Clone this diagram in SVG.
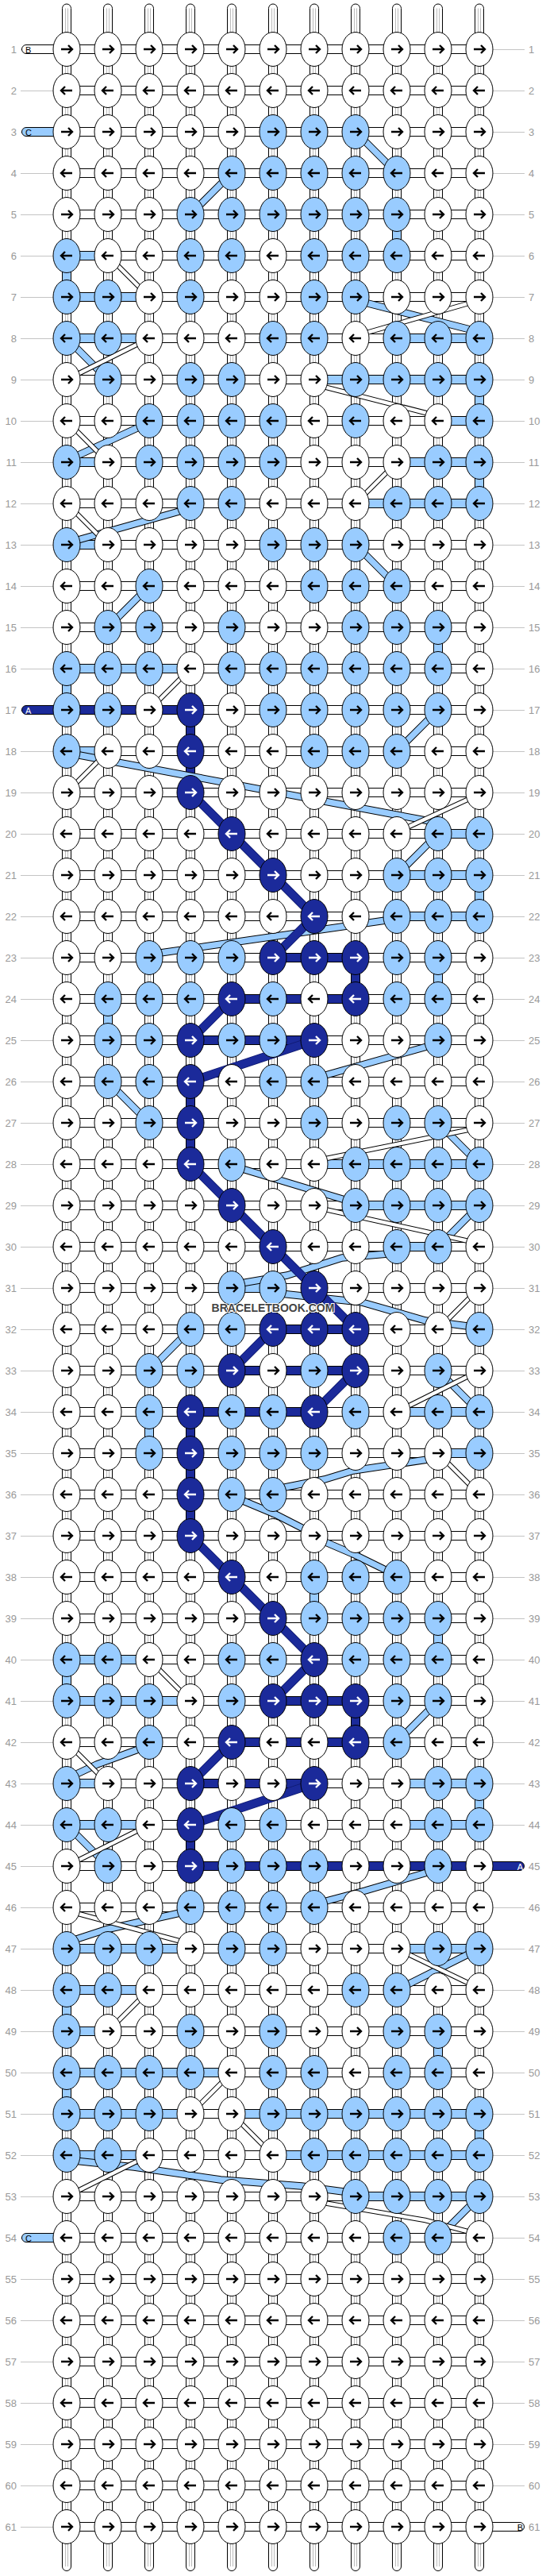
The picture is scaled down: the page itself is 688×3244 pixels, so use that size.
<svg xmlns="http://www.w3.org/2000/svg" width="688" height="3244" viewBox="0 0 688 3244">
<style>
.num{font-family:"Liberation Sans",Arial,sans-serif;font-size:13px;fill:#999}
.lb{font-family:"Liberation Sans",Arial,sans-serif;font-size:11px}
</style>
<defs>
<pattern id="ph" patternUnits="userSpaceOnUse" x="84" y="36" width="52" height="52"><rect x="15.5" y="20.5" width="21" height="11" fill="#fff" stroke="#000"/></pattern>
<pattern id="pv" patternUnits="userSpaceOnUse" x="58" y="62" width="52" height="52"><rect x="20.5" y="19" width="11" height="14" fill="#fff" stroke="#000"/><path d="M24.5,19.5V32.5M27.5,19.5V32.5" stroke="#bbb"/></pattern>
<pattern id="pl" patternUnits="userSpaceOnUse" x="0" y="36" width="688" height="52"><path d="M26,26.5H67M621,26.5H661" stroke="#c4c4c4"/></pattern>
<g id="st"><rect x="-5.5" y="0.5" width="11" height="44" rx="5.5" fill="#fff" stroke="#000"/><path d="M-1.5,6V44M1.5,6V44" stroke="#bbb"/></g>
<path id="ar" d="M-7,0H6.5M2,-5L7,0L2,5" fill="none" stroke-width="2.4"/>
<path id="al" d="M7,0H-6.5M-2,-5L-7,0L-2,5" fill="none" stroke-width="2.4"/>
<g id="wr"><ellipse rx="17" ry="21.5" fill="#fff" stroke="#000"/><use href="#ar" stroke="#000"/></g>
<g id="wl"><ellipse rx="17" ry="21.5" fill="#fff" stroke="#000"/><use href="#al" stroke="#000"/></g>
<g id="lr"><ellipse rx="17" ry="21.5" fill="#99ccff" stroke="#000"/><use href="#ar" stroke="#000"/></g>
<g id="ll"><ellipse rx="17" ry="21.5" fill="#99ccff" stroke="#000"/><use href="#al" stroke="#000"/></g>
<g id="dr"><ellipse rx="17" ry="21.5" fill="#1b2a9a" stroke="#000"/><use href="#ar" stroke="#fff"/></g>
<g id="dl"><ellipse rx="17" ry="21.5" fill="#1b2a9a" stroke="#000"/><use href="#al" stroke="#fff"/></g>
<path id="sLp" d="M448,166L500,218M292,218L240,270M448,378L604,418M84,426L136,478M188,532L84,580M240,640L84,684M448,686L500,738M188,738L136,790M552,894L500,946M84,948L552,1036M552,1050L500,1102M500,1157L188,1202M552,1314L396,1358M136,1362L188,1414M552,1414L604,1466M292,1468L448,1515M604,1518L552,1570M500,1578L431,1584L362,1606L292,1618M344,1628L456,1640L536,1663L604,1672M240,1674L188,1726M552,1726L604,1778M552,1836L445,1852L409,1863L344,1876M292,1884L347,1907L396,1932M396,1936L445,1957L500,1984M552,2142L500,2194M188,2198L122,2222L84,2240M84,2298L136,2350M552,2354L460,2381L396,2398M240,2406L133,2430L84,2446M604,2454L500,2506M84,2720L169,2729L278,2745L380,2753L448,2762M604,2766L552,2818"/>
<path id="sWp" d="M136,322L188,374M448,423L604,378M188,426L84,478M396,484L552,524M84,530L136,582M500,582L448,634M84,634L136,686M240,842L188,894M136,946L84,998M604,1000L500,1048M396,1462L604,1420M396,1520L604,1566M604,1622L552,1674M604,1726L500,1778M552,1830L604,1882M188,2090L240,2142M84,2194L136,2246M188,2298L84,2350M84,2406L240,2448M500,2454L604,2504M188,2506L136,2558M292,2610L240,2662M292,2662L344,2714M188,2714L84,2766M396,2772L536,2796L604,2814"/>
<path id="sDp" d="M240,998L292,1050L344,1102L396,1154L344,1206M292,1258L240,1310M396,1310L240,1362M240,1466L292,1518L344,1570L396,1622L448,1674M344,1674L292,1726M448,1726L396,1778M240,1934L292,1986L344,2038L396,2090L344,2142M292,2194L240,2246M396,2246L240,2298"/>
</defs>
<rect width="688" height="3244" fill="#fff"/>
<g id="connectors">
<rect x="0" y="36" width="688" height="3172" fill="url(#pl)"/>
<g id="stubs">
<use href="#st" x="84" y="4.5"/><use href="#st" x="136" y="4.5"/><use href="#st" x="188" y="4.5"/><use href="#st" x="240" y="4.5"/><use href="#st" x="292" y="4.5"/><use href="#st" x="344" y="4.5"/><use href="#st" x="396" y="4.5"/><use href="#st" x="448" y="4.5"/><use href="#st" x="500" y="4.5"/><use href="#st" x="552" y="4.5"/><use href="#st" x="604" y="4.5"/>
<use href="#st" transform="translate(84,3238) scale(1,-1)"/><use href="#st" transform="translate(136,3238) scale(1,-1)"/><use href="#st" transform="translate(188,3238) scale(1,-1)"/><use href="#st" transform="translate(240,3238) scale(1,-1)"/><use href="#st" transform="translate(292,3238) scale(1,-1)"/><use href="#st" transform="translate(344,3238) scale(1,-1)"/><use href="#st" transform="translate(396,3238) scale(1,-1)"/><use href="#st" transform="translate(448,3238) scale(1,-1)"/><use href="#st" transform="translate(500,3238) scale(1,-1)"/><use href="#st" transform="translate(552,3238) scale(1,-1)"/><use href="#st" transform="translate(604,3238) scale(1,-1)"/>
</g>
<rect x="84" y="36" width="520" height="3172" fill="url(#ph)"/>
<rect x="58" y="62" width="572" height="3120" fill="url(#pv)"/>
<path fill="#99ccff" stroke="#000" d="M99,316.5h22v11h-22zM99,368.5h22v11h-22zM151,368.5h22v11h-22zM99,420.5h22v11h-22zM151,420.5h22v11h-22zM515,420.5h22v11h-22zM567,420.5h22v11h-22zM411,472.5h22v11h-22zM463,472.5h22v11h-22zM515,472.5h22v11h-22zM567,472.5h22v11h-22zM567,524.5h22v11h-22zM99,576.5h22v11h-22zM515,576.5h22v11h-22zM567,576.5h22v11h-22zM463,628.5h22v11h-22zM515,628.5h22v11h-22zM567,628.5h22v11h-22zM99,680.5h22v11h-22zM99,836.5h22v11h-22zM151,836.5h22v11h-22zM203,836.5h22v11h-22zM99,940.5h22v11h-22zM567,1044.5h22v11h-22zM515,1096.5h22v11h-22zM567,1096.5h22v11h-22zM515,1148.5h22v11h-22zM567,1148.5h22v11h-22zM411,1460.5h22v11h-22zM463,1460.5h22v11h-22zM515,1460.5h22v11h-22zM567,1460.5h22v11h-22zM463,1512.5h22v11h-22zM515,1512.5h22v11h-22zM567,1512.5h22v11h-22zM515,1564.5h22v11h-22zM307,1616.5h22v11h-22zM515,1772.5h22v11h-22zM567,1772.5h22v11h-22zM567,1824.5h22v11h-22zM99,2084.5h22v11h-22zM151,2084.5h22v11h-22zM99,2136.5h22v11h-22zM151,2136.5h22v11h-22zM203,2136.5h22v11h-22zM99,2240.5h22v11h-22zM515,2240.5h22v11h-22zM567,2240.5h22v11h-22zM99,2292.5h22v11h-22zM151,2292.5h22v11h-22zM515,2292.5h22v11h-22zM567,2292.5h22v11h-22zM99,2448.5h22v11h-22zM151,2448.5h22v11h-22zM203,2448.5h22v11h-22zM515,2448.5h22v11h-22zM567,2448.5h22v11h-22zM99,2500.5h22v11h-22zM151,2500.5h22v11h-22zM99,2552.5h22v11h-22zM99,2604.5h22v11h-22zM151,2604.5h22v11h-22zM203,2604.5h22v11h-22zM255,2604.5h22v11h-22zM99,2656.5h22v11h-22zM151,2656.5h22v11h-22zM203,2656.5h22v11h-22zM307,2656.5h22v11h-22zM359,2656.5h22v11h-22zM411,2656.5h22v11h-22zM463,2656.5h22v11h-22zM515,2656.5h22v11h-22zM567,2656.5h22v11h-22zM99,2708.5h22v11h-22zM151,2708.5h22v11h-22zM359,2708.5h22v11h-22zM411,2708.5h22v11h-22zM463,2708.5h22v11h-22zM515,2708.5h22v11h-22zM567,2708.5h22v11h-22zM463,2760.5h22v11h-22zM515,2760.5h22v11h-22zM567,2760.5h22v11h-22zM494.5,289h11v14h-11zM78.5,341h11v14h-11zM598.5,497h11v14h-11zM598.5,601h11v14h-11zM546.5,809h11v14h-11zM78.5,861h11v14h-11zM598.5,1121h11v14h-11zM546.5,1225h11v14h-11zM130.5,1277h11v14h-11zM182.5,1797h11v14h-11zM390.5,2005h11v14h-11zM546.5,2057h11v14h-11zM78.5,2109h11v14h-11zM598.5,2265h11v14h-11zM78.5,2525h11v14h-11zM546.5,2577h11v14h-11zM78.5,2629h11v14h-11zM598.5,2681h11v14h-11z"/>
<path fill="#1b2a9a" stroke="#000" d="M99,888.5h22v11h-22zM151,888.5h22v11h-22zM203,888.5h22v11h-22zM359,1200.5h22v11h-22zM411,1200.5h22v11h-22zM307,1252.5h22v11h-22zM359,1252.5h22v11h-22zM411,1252.5h22v11h-22zM255,1304.5h22v11h-22zM307,1304.5h22v11h-22zM359,1304.5h22v11h-22zM359,1668.5h22v11h-22zM411,1668.5h22v11h-22zM307,1720.5h22v11h-22zM359,1720.5h22v11h-22zM411,1720.5h22v11h-22zM255,1772.5h22v11h-22zM307,1772.5h22v11h-22zM359,1772.5h22v11h-22zM359,2136.5h22v11h-22zM411,2136.5h22v11h-22zM307,2188.5h22v11h-22zM359,2188.5h22v11h-22zM411,2188.5h22v11h-22zM255,2240.5h22v11h-22zM307,2240.5h22v11h-22zM359,2240.5h22v11h-22zM255,2344.5h22v11h-22zM307,2344.5h22v11h-22zM359,2344.5h22v11h-22zM411,2344.5h22v11h-22zM463,2344.5h22v11h-22zM515,2344.5h22v11h-22zM567,2344.5h22v11h-22zM234.5,913h11v14h-11zM234.5,965h11v14h-11zM442.5,1225h11v14h-11zM234.5,1381h11v14h-11zM234.5,1433h11v14h-11zM234.5,1797h11v14h-11zM234.5,1849h11v14h-11zM234.5,1901h11v14h-11zM442.5,2161h11v14h-11zM234.5,2317h11v14h-11z"/>
<g fill="none" stroke-linejoin="round">
<use href="#sLp" stroke="#000" stroke-width="9.5"/>
<use href="#sLp" stroke="#99ccff" stroke-width="7.5"/>
<use href="#sWp" stroke="#000" stroke-width="6.5"/>
<use href="#sWp" stroke="#fff" stroke-width="4.5"/>
<use href="#sDp" stroke="#0f1a70" stroke-width="11"/>
<use href="#sDp" stroke="#1b2a9a" stroke-width="9.5"/>
</g>
<g id="sidestubs" stroke="#000">
<rect x="27.5" y="56.5" width="45" height="11" rx="5.5" fill="#fff"/>
<rect x="27.5" y="160.5" width="45" height="11" rx="5.5" fill="#99ccff"/>
<rect x="27.5" y="888.5" width="45" height="11" rx="5.5" fill="#1b2a9a"/>
<rect x="27.5" y="2812.5" width="45" height="11" rx="5.5" fill="#99ccff"/>
<rect x="615.5" y="2344.5" width="45" height="11" rx="5.5" fill="#1b2a9a"/>
<rect x="615.5" y="3176.5" width="45" height="11" rx="5.5" fill="#fff"/>
</g>
</g>
<g id="knots">
<g transform="translate(0,62)"><g id="n1-1"><use href="#wr" x="84"/></g><g id="n1-2"><use href="#wr" x="136"/></g><g id="n1-3"><use href="#wr" x="188"/></g><g id="n1-4"><use href="#wr" x="240"/></g><g id="n1-5"><use href="#wr" x="292"/></g><g id="n1-6"><use href="#wr" x="344"/></g><g id="n1-7"><use href="#wr" x="396"/></g><g id="n1-8"><use href="#wr" x="448"/></g><g id="n1-9"><use href="#wr" x="500"/></g><g id="n1-10"><use href="#wr" x="552"/></g><g id="n1-11"><use href="#wr" x="604"/></g></g>
<g transform="translate(0,114)"><g id="n2-1"><use href="#wl" x="84"/></g><g id="n2-2"><use href="#wl" x="136"/></g><g id="n2-3"><use href="#wl" x="188"/></g><g id="n2-4"><use href="#wl" x="240"/></g><g id="n2-5"><use href="#wl" x="292"/></g><g id="n2-6"><use href="#wl" x="344"/></g><g id="n2-7"><use href="#wl" x="396"/></g><g id="n2-8"><use href="#wl" x="448"/></g><g id="n2-9"><use href="#wl" x="500"/></g><g id="n2-10"><use href="#wl" x="552"/></g><g id="n2-11"><use href="#wl" x="604"/></g></g>
<g transform="translate(0,166)"><g id="n3-1"><use href="#wr" x="84"/></g><g id="n3-2"><use href="#wr" x="136"/></g><g id="n3-3"><use href="#wr" x="188"/></g><g id="n3-4"><use href="#wr" x="240"/></g><g id="n3-5"><use href="#wr" x="292"/></g><g id="n3-6"><use href="#lr" x="344"/></g><g id="n3-7"><use href="#lr" x="396"/></g><g id="n3-8"><use href="#lr" x="448"/></g><g id="n3-9"><use href="#wr" x="500"/></g><g id="n3-10"><use href="#wr" x="552"/></g><g id="n3-11"><use href="#wr" x="604"/></g></g>
<g transform="translate(0,218)"><g id="n4-1"><use href="#wl" x="84"/></g><g id="n4-2"><use href="#wl" x="136"/></g><g id="n4-3"><use href="#wl" x="188"/></g><g id="n4-4"><use href="#wl" x="240"/></g><g id="n4-5"><use href="#ll" x="292"/></g><g id="n4-6"><use href="#ll" x="344"/></g><g id="n4-7"><use href="#ll" x="396"/></g><g id="n4-8"><use href="#ll" x="448"/></g><g id="n4-9"><use href="#ll" x="500"/></g><g id="n4-10"><use href="#wl" x="552"/></g><g id="n4-11"><use href="#wl" x="604"/></g></g>
<g transform="translate(0,270)"><g id="n5-1"><use href="#wr" x="84"/></g><g id="n5-2"><use href="#wr" x="136"/></g><g id="n5-3"><use href="#wr" x="188"/></g><g id="n5-4"><use href="#lr" x="240"/></g><g id="n5-5"><use href="#lr" x="292"/></g><g id="n5-6"><use href="#lr" x="344"/></g><g id="n5-7"><use href="#lr" x="396"/></g><g id="n5-8"><use href="#lr" x="448"/></g><g id="n5-9"><use href="#lr" x="500"/></g><g id="n5-10"><use href="#wr" x="552"/></g><g id="n5-11"><use href="#wr" x="604"/></g></g>
<g transform="translate(0,322)"><g id="n6-1"><use href="#ll" x="84"/></g><g id="n6-2"><use href="#wl" x="136"/></g><g id="n6-3"><use href="#wl" x="188"/></g><g id="n6-4"><use href="#ll" x="240"/></g><g id="n6-5"><use href="#ll" x="292"/></g><g id="n6-6"><use href="#wl" x="344"/></g><g id="n6-7"><use href="#ll" x="396"/></g><g id="n6-8"><use href="#ll" x="448"/></g><g id="n6-9"><use href="#ll" x="500"/></g><g id="n6-10"><use href="#wl" x="552"/></g><g id="n6-11"><use href="#wl" x="604"/></g></g>
<g transform="translate(0,374)"><g id="n7-1"><use href="#lr" x="84"/></g><g id="n7-2"><use href="#lr" x="136"/></g><g id="n7-3"><use href="#wr" x="188"/></g><g id="n7-4"><use href="#lr" x="240"/></g><g id="n7-5"><use href="#wr" x="292"/></g><g id="n7-6"><use href="#wr" x="344"/></g><g id="n7-7"><use href="#lr" x="396"/></g><g id="n7-8"><use href="#lr" x="448"/></g><g id="n7-9"><use href="#wr" x="500"/></g><g id="n7-10"><use href="#wr" x="552"/></g><g id="n7-11"><use href="#wr" x="604"/></g></g>
<g transform="translate(0,426)"><g id="n8-1"><use href="#ll" x="84"/></g><g id="n8-2"><use href="#ll" x="136"/></g><g id="n8-3"><use href="#wl" x="188"/></g><g id="n8-4"><use href="#wl" x="240"/></g><g id="n8-5"><use href="#wl" x="292"/></g><g id="n8-6"><use href="#ll" x="344"/></g><g id="n8-7"><use href="#ll" x="396"/></g><g id="n8-8"><use href="#wl" x="448"/></g><g id="n8-9"><use href="#ll" x="500"/></g><g id="n8-10"><use href="#ll" x="552"/></g><g id="n8-11"><use href="#ll" x="604"/></g></g>
<g transform="translate(0,478)"><g id="n9-1"><use href="#wr" x="84"/></g><g id="n9-2"><use href="#lr" x="136"/></g><g id="n9-3"><use href="#wr" x="188"/></g><g id="n9-4"><use href="#lr" x="240"/></g><g id="n9-5"><use href="#lr" x="292"/></g><g id="n9-6"><use href="#wr" x="344"/></g><g id="n9-7"><use href="#wr" x="396"/></g><g id="n9-8"><use href="#lr" x="448"/></g><g id="n9-9"><use href="#lr" x="500"/></g><g id="n9-10"><use href="#lr" x="552"/></g><g id="n9-11"><use href="#lr" x="604"/></g></g>
<g transform="translate(0,530)"><g id="n10-1"><use href="#wl" x="84"/></g><g id="n10-2"><use href="#wl" x="136"/></g><g id="n10-3"><use href="#ll" x="188"/></g><g id="n10-4"><use href="#ll" x="240"/></g><g id="n10-5"><use href="#ll" x="292"/></g><g id="n10-6"><use href="#ll" x="344"/></g><g id="n10-7"><use href="#wl" x="396"/></g><g id="n10-8"><use href="#ll" x="448"/></g><g id="n10-9"><use href="#wl" x="500"/></g><g id="n10-10"><use href="#wl" x="552"/></g><g id="n10-11"><use href="#ll" x="604"/></g></g>
<g transform="translate(0,582)"><g id="n11-1"><use href="#lr" x="84"/></g><g id="n11-2"><use href="#wr" x="136"/></g><g id="n11-3"><use href="#lr" x="188"/></g><g id="n11-4"><use href="#lr" x="240"/></g><g id="n11-5"><use href="#lr" x="292"/></g><g id="n11-6"><use href="#lr" x="344"/></g><g id="n11-7"><use href="#wr" x="396"/></g><g id="n11-8"><use href="#wr" x="448"/></g><g id="n11-9"><use href="#wr" x="500"/></g><g id="n11-10"><use href="#lr" x="552"/></g><g id="n11-11"><use href="#lr" x="604"/></g></g>
<g transform="translate(0,634)"><g id="n12-1"><use href="#wl" x="84"/></g><g id="n12-2"><use href="#wl" x="136"/></g><g id="n12-3"><use href="#wl" x="188"/></g><g id="n12-4"><use href="#ll" x="240"/></g><g id="n12-5"><use href="#ll" x="292"/></g><g id="n12-6"><use href="#wl" x="344"/></g><g id="n12-7"><use href="#wl" x="396"/></g><g id="n12-8"><use href="#wl" x="448"/></g><g id="n12-9"><use href="#ll" x="500"/></g><g id="n12-10"><use href="#ll" x="552"/></g><g id="n12-11"><use href="#ll" x="604"/></g></g>
<g transform="translate(0,686)"><g id="n13-1"><use href="#lr" x="84"/></g><g id="n13-2"><use href="#wr" x="136"/></g><g id="n13-3"><use href="#wr" x="188"/></g><g id="n13-4"><use href="#wr" x="240"/></g><g id="n13-5"><use href="#wr" x="292"/></g><g id="n13-6"><use href="#lr" x="344"/></g><g id="n13-7"><use href="#lr" x="396"/></g><g id="n13-8"><use href="#lr" x="448"/></g><g id="n13-9"><use href="#wr" x="500"/></g><g id="n13-10"><use href="#wr" x="552"/></g><g id="n13-11"><use href="#wr" x="604"/></g></g>
<g transform="translate(0,738)"><g id="n14-1"><use href="#wl" x="84"/></g><g id="n14-2"><use href="#wl" x="136"/></g><g id="n14-3"><use href="#ll" x="188"/></g><g id="n14-4"><use href="#wl" x="240"/></g><g id="n14-5"><use href="#wl" x="292"/></g><g id="n14-6"><use href="#wl" x="344"/></g><g id="n14-7"><use href="#ll" x="396"/></g><g id="n14-8"><use href="#ll" x="448"/></g><g id="n14-9"><use href="#ll" x="500"/></g><g id="n14-10"><use href="#wl" x="552"/></g><g id="n14-11"><use href="#wl" x="604"/></g></g>
<g transform="translate(0,790)"><g id="n15-1"><use href="#wr" x="84"/></g><g id="n15-2"><use href="#lr" x="136"/></g><g id="n15-3"><use href="#lr" x="188"/></g><g id="n15-4"><use href="#wr" x="240"/></g><g id="n15-5"><use href="#lr" x="292"/></g><g id="n15-6"><use href="#wr" x="344"/></g><g id="n15-7"><use href="#wr" x="396"/></g><g id="n15-8"><use href="#lr" x="448"/></g><g id="n15-9"><use href="#lr" x="500"/></g><g id="n15-10"><use href="#lr" x="552"/></g><g id="n15-11"><use href="#wr" x="604"/></g></g>
<g transform="translate(0,842)"><g id="n16-1"><use href="#ll" x="84"/></g><g id="n16-2"><use href="#ll" x="136"/></g><g id="n16-3"><use href="#ll" x="188"/></g><g id="n16-4"><use href="#wl" x="240"/></g><g id="n16-5"><use href="#ll" x="292"/></g><g id="n16-6"><use href="#ll" x="344"/></g><g id="n16-7"><use href="#ll" x="396"/></g><g id="n16-8"><use href="#ll" x="448"/></g><g id="n16-9"><use href="#ll" x="500"/></g><g id="n16-10"><use href="#ll" x="552"/></g><g id="n16-11"><use href="#wl" x="604"/></g></g>
<g transform="translate(0,894)"><g id="n17-1"><use href="#lr" x="84"/></g><g id="n17-2"><use href="#lr" x="136"/></g><g id="n17-3"><use href="#wr" x="188"/></g><g id="n17-4"><use href="#dr" x="240"/></g><g id="n17-5"><use href="#wr" x="292"/></g><g id="n17-6"><use href="#lr" x="344"/></g><g id="n17-7"><use href="#lr" x="396"/></g><g id="n17-8"><use href="#lr" x="448"/></g><g id="n17-9"><use href="#lr" x="500"/></g><g id="n17-10"><use href="#lr" x="552"/></g><g id="n17-11"><use href="#wr" x="604"/></g></g>
<g transform="translate(0,946)"><g id="n18-1"><use href="#ll" x="84"/></g><g id="n18-2"><use href="#wl" x="136"/></g><g id="n18-3"><use href="#wl" x="188"/></g><g id="n18-4"><use href="#dl" x="240"/></g><g id="n18-5"><use href="#wl" x="292"/></g><g id="n18-6"><use href="#wl" x="344"/></g><g id="n18-7"><use href="#ll" x="396"/></g><g id="n18-8"><use href="#ll" x="448"/></g><g id="n18-9"><use href="#ll" x="500"/></g><g id="n18-10"><use href="#wl" x="552"/></g><g id="n18-11"><use href="#wl" x="604"/></g></g>
<g transform="translate(0,998)"><g id="n19-1"><use href="#wr" x="84"/></g><g id="n19-2"><use href="#wr" x="136"/></g><g id="n19-3"><use href="#wr" x="188"/></g><g id="n19-4"><use href="#dr" x="240"/></g><g id="n19-5"><use href="#wr" x="292"/></g><g id="n19-6"><use href="#wr" x="344"/></g><g id="n19-7"><use href="#wr" x="396"/></g><g id="n19-8"><use href="#wr" x="448"/></g><g id="n19-9"><use href="#wr" x="500"/></g><g id="n19-10"><use href="#wr" x="552"/></g><g id="n19-11"><use href="#wr" x="604"/></g></g>
<g transform="translate(0,1050)"><g id="n20-1"><use href="#wl" x="84"/></g><g id="n20-2"><use href="#wl" x="136"/></g><g id="n20-3"><use href="#wl" x="188"/></g><g id="n20-4"><use href="#wl" x="240"/></g><g id="n20-5"><use href="#dl" x="292"/></g><g id="n20-6"><use href="#wl" x="344"/></g><g id="n20-7"><use href="#wl" x="396"/></g><g id="n20-8"><use href="#wl" x="448"/></g><g id="n20-9"><use href="#wl" x="500"/></g><g id="n20-10"><use href="#ll" x="552"/></g><g id="n20-11"><use href="#ll" x="604"/></g></g>
<g transform="translate(0,1102)"><g id="n21-1"><use href="#wr" x="84"/></g><g id="n21-2"><use href="#wr" x="136"/></g><g id="n21-3"><use href="#wr" x="188"/></g><g id="n21-4"><use href="#wr" x="240"/></g><g id="n21-5"><use href="#wr" x="292"/></g><g id="n21-6"><use href="#dr" x="344"/></g><g id="n21-7"><use href="#wr" x="396"/></g><g id="n21-8"><use href="#wr" x="448"/></g><g id="n21-9"><use href="#lr" x="500"/></g><g id="n21-10"><use href="#lr" x="552"/></g><g id="n21-11"><use href="#lr" x="604"/></g></g>
<g transform="translate(0,1154)"><g id="n22-1"><use href="#wl" x="84"/></g><g id="n22-2"><use href="#wl" x="136"/></g><g id="n22-3"><use href="#wl" x="188"/></g><g id="n22-4"><use href="#wl" x="240"/></g><g id="n22-5"><use href="#wl" x="292"/></g><g id="n22-6"><use href="#wl" x="344"/></g><g id="n22-7"><use href="#dl" x="396"/></g><g id="n22-8"><use href="#wl" x="448"/></g><g id="n22-9"><use href="#ll" x="500"/></g><g id="n22-10"><use href="#ll" x="552"/></g><g id="n22-11"><use href="#ll" x="604"/></g></g>
<g transform="translate(0,1206)"><g id="n23-1"><use href="#wr" x="84"/></g><g id="n23-2"><use href="#wr" x="136"/></g><g id="n23-3"><use href="#lr" x="188"/></g><g id="n23-4"><use href="#lr" x="240"/></g><g id="n23-5"><use href="#lr" x="292"/></g><g id="n23-6"><use href="#dr" x="344"/></g><g id="n23-7"><use href="#dr" x="396"/></g><g id="n23-8"><use href="#dr" x="448"/></g><g id="n23-9"><use href="#lr" x="500"/></g><g id="n23-10"><use href="#lr" x="552"/></g><g id="n23-11"><use href="#wr" x="604"/></g></g>
<g transform="translate(0,1258)"><g id="n24-1"><use href="#wl" x="84"/></g><g id="n24-2"><use href="#ll" x="136"/></g><g id="n24-3"><use href="#ll" x="188"/></g><g id="n24-4"><use href="#ll" x="240"/></g><g id="n24-5"><use href="#dl" x="292"/></g><g id="n24-6"><use href="#ll" x="344"/></g><g id="n24-7"><use href="#wl" x="396"/></g><g id="n24-8"><use href="#dl" x="448"/></g><g id="n24-9"><use href="#ll" x="500"/></g><g id="n24-10"><use href="#ll" x="552"/></g><g id="n24-11"><use href="#wl" x="604"/></g></g>
<g transform="translate(0,1310)"><g id="n25-1"><use href="#wr" x="84"/></g><g id="n25-2"><use href="#lr" x="136"/></g><g id="n25-3"><use href="#lr" x="188"/></g><g id="n25-4"><use href="#dr" x="240"/></g><g id="n25-5"><use href="#lr" x="292"/></g><g id="n25-6"><use href="#lr" x="344"/></g><g id="n25-7"><use href="#dr" x="396"/></g><g id="n25-8"><use href="#wr" x="448"/></g><g id="n25-9"><use href="#wr" x="500"/></g><g id="n25-10"><use href="#lr" x="552"/></g><g id="n25-11"><use href="#wr" x="604"/></g></g>
<g transform="translate(0,1362)"><g id="n26-1"><use href="#wl" x="84"/></g><g id="n26-2"><use href="#ll" x="136"/></g><g id="n26-3"><use href="#ll" x="188"/></g><g id="n26-4"><use href="#dl" x="240"/></g><g id="n26-5"><use href="#wl" x="292"/></g><g id="n26-6"><use href="#ll" x="344"/></g><g id="n26-7"><use href="#ll" x="396"/></g><g id="n26-8"><use href="#wl" x="448"/></g><g id="n26-9"><use href="#wl" x="500"/></g><g id="n26-10"><use href="#wl" x="552"/></g><g id="n26-11"><use href="#wl" x="604"/></g></g>
<g transform="translate(0,1414)"><g id="n27-1"><use href="#wr" x="84"/></g><g id="n27-2"><use href="#wr" x="136"/></g><g id="n27-3"><use href="#lr" x="188"/></g><g id="n27-4"><use href="#dr" x="240"/></g><g id="n27-5"><use href="#wr" x="292"/></g><g id="n27-6"><use href="#wr" x="344"/></g><g id="n27-7"><use href="#lr" x="396"/></g><g id="n27-8"><use href="#wr" x="448"/></g><g id="n27-9"><use href="#lr" x="500"/></g><g id="n27-10"><use href="#lr" x="552"/></g><g id="n27-11"><use href="#wr" x="604"/></g></g>
<g transform="translate(0,1466)"><g id="n28-1"><use href="#wl" x="84"/></g><g id="n28-2"><use href="#wl" x="136"/></g><g id="n28-3"><use href="#wl" x="188"/></g><g id="n28-4"><use href="#dl" x="240"/></g><g id="n28-5"><use href="#ll" x="292"/></g><g id="n28-6"><use href="#wl" x="344"/></g><g id="n28-7"><use href="#wl" x="396"/></g><g id="n28-8"><use href="#ll" x="448"/></g><g id="n28-9"><use href="#ll" x="500"/></g><g id="n28-10"><use href="#ll" x="552"/></g><g id="n28-11"><use href="#ll" x="604"/></g></g>
<g transform="translate(0,1518)"><g id="n29-1"><use href="#wr" x="84"/></g><g id="n29-2"><use href="#wr" x="136"/></g><g id="n29-3"><use href="#wr" x="188"/></g><g id="n29-4"><use href="#wr" x="240"/></g><g id="n29-5"><use href="#dr" x="292"/></g><g id="n29-6"><use href="#wr" x="344"/></g><g id="n29-7"><use href="#wr" x="396"/></g><g id="n29-8"><use href="#lr" x="448"/></g><g id="n29-9"><use href="#lr" x="500"/></g><g id="n29-10"><use href="#lr" x="552"/></g><g id="n29-11"><use href="#lr" x="604"/></g></g>
<g transform="translate(0,1570)"><g id="n30-1"><use href="#wl" x="84"/></g><g id="n30-2"><use href="#wl" x="136"/></g><g id="n30-3"><use href="#wl" x="188"/></g><g id="n30-4"><use href="#wl" x="240"/></g><g id="n30-5"><use href="#wl" x="292"/></g><g id="n30-6"><use href="#dl" x="344"/></g><g id="n30-7"><use href="#wl" x="396"/></g><g id="n30-8"><use href="#wl" x="448"/></g><g id="n30-9"><use href="#ll" x="500"/></g><g id="n30-10"><use href="#ll" x="552"/></g><g id="n30-11"><use href="#wl" x="604"/></g></g>
<g transform="translate(0,1622)"><g id="n31-1"><use href="#wr" x="84"/></g><g id="n31-2"><use href="#wr" x="136"/></g><g id="n31-3"><use href="#wr" x="188"/></g><g id="n31-4"><use href="#wr" x="240"/></g><g id="n31-5"><use href="#lr" x="292"/></g><g id="n31-6"><use href="#lr" x="344"/></g><g id="n31-7"><use href="#dr" x="396"/></g><g id="n31-8"><use href="#wr" x="448"/></g><g id="n31-9"><use href="#wr" x="500"/></g><g id="n31-10"><use href="#wr" x="552"/></g><g id="n31-11"><use href="#wr" x="604"/></g></g>
<g transform="translate(0,1674)"><g id="n32-1"><use href="#wl" x="84"/></g><g id="n32-2"><use href="#wl" x="136"/></g><g id="n32-3"><use href="#wl" x="188"/></g><g id="n32-4"><use href="#ll" x="240"/></g><g id="n32-5"><use href="#ll" x="292"/></g><g id="n32-6"><use href="#dl" x="344"/></g><g id="n32-7"><use href="#dl" x="396"/></g><g id="n32-8"><use href="#dl" x="448"/></g><g id="n32-9"><use href="#wl" x="500"/></g><g id="n32-10"><use href="#wl" x="552"/></g><g id="n32-11"><use href="#ll" x="604"/></g></g>
<g transform="translate(0,1726)"><g id="n33-1"><use href="#wr" x="84"/></g><g id="n33-2"><use href="#wr" x="136"/></g><g id="n33-3"><use href="#lr" x="188"/></g><g id="n33-4"><use href="#lr" x="240"/></g><g id="n33-5"><use href="#dr" x="292"/></g><g id="n33-6"><use href="#wr" x="344"/></g><g id="n33-7"><use href="#lr" x="396"/></g><g id="n33-8"><use href="#dr" x="448"/></g><g id="n33-9"><use href="#wr" x="500"/></g><g id="n33-10"><use href="#lr" x="552"/></g><g id="n33-11"><use href="#wr" x="604"/></g></g>
<g transform="translate(0,1778)"><g id="n34-1"><use href="#wl" x="84"/></g><g id="n34-2"><use href="#wl" x="136"/></g><g id="n34-3"><use href="#ll" x="188"/></g><g id="n34-4"><use href="#dl" x="240"/></g><g id="n34-5"><use href="#ll" x="292"/></g><g id="n34-6"><use href="#ll" x="344"/></g><g id="n34-7"><use href="#dl" x="396"/></g><g id="n34-8"><use href="#ll" x="448"/></g><g id="n34-9"><use href="#wl" x="500"/></g><g id="n34-10"><use href="#ll" x="552"/></g><g id="n34-11"><use href="#ll" x="604"/></g></g>
<g transform="translate(0,1830)"><g id="n35-1"><use href="#wr" x="84"/></g><g id="n35-2"><use href="#wr" x="136"/></g><g id="n35-3"><use href="#lr" x="188"/></g><g id="n35-4"><use href="#dr" x="240"/></g><g id="n35-5"><use href="#lr" x="292"/></g><g id="n35-6"><use href="#lr" x="344"/></g><g id="n35-7"><use href="#lr" x="396"/></g><g id="n35-8"><use href="#wr" x="448"/></g><g id="n35-9"><use href="#wr" x="500"/></g><g id="n35-10"><use href="#wr" x="552"/></g><g id="n35-11"><use href="#lr" x="604"/></g></g>
<g transform="translate(0,1882)"><g id="n36-1"><use href="#wl" x="84"/></g><g id="n36-2"><use href="#wl" x="136"/></g><g id="n36-3"><use href="#wl" x="188"/></g><g id="n36-4"><use href="#dl" x="240"/></g><g id="n36-5"><use href="#ll" x="292"/></g><g id="n36-6"><use href="#ll" x="344"/></g><g id="n36-7"><use href="#wl" x="396"/></g><g id="n36-8"><use href="#wl" x="448"/></g><g id="n36-9"><use href="#wl" x="500"/></g><g id="n36-10"><use href="#wl" x="552"/></g><g id="n36-11"><use href="#wl" x="604"/></g></g>
<g transform="translate(0,1934)"><g id="n37-1"><use href="#wr" x="84"/></g><g id="n37-2"><use href="#wr" x="136"/></g><g id="n37-3"><use href="#wr" x="188"/></g><g id="n37-4"><use href="#dr" x="240"/></g><g id="n37-5"><use href="#wr" x="292"/></g><g id="n37-6"><use href="#wr" x="344"/></g><g id="n37-7"><use href="#wr" x="396"/></g><g id="n37-8"><use href="#wr" x="448"/></g><g id="n37-9"><use href="#wr" x="500"/></g><g id="n37-10"><use href="#wr" x="552"/></g><g id="n37-11"><use href="#wr" x="604"/></g></g>
<g transform="translate(0,1986)"><g id="n38-1"><use href="#wl" x="84"/></g><g id="n38-2"><use href="#wl" x="136"/></g><g id="n38-3"><use href="#wl" x="188"/></g><g id="n38-4"><use href="#wl" x="240"/></g><g id="n38-5"><use href="#dl" x="292"/></g><g id="n38-6"><use href="#wl" x="344"/></g><g id="n38-7"><use href="#ll" x="396"/></g><g id="n38-8"><use href="#ll" x="448"/></g><g id="n38-9"><use href="#ll" x="500"/></g><g id="n38-10"><use href="#wl" x="552"/></g><g id="n38-11"><use href="#wl" x="604"/></g></g>
<g transform="translate(0,2038)"><g id="n39-1"><use href="#wr" x="84"/></g><g id="n39-2"><use href="#wr" x="136"/></g><g id="n39-3"><use href="#wr" x="188"/></g><g id="n39-4"><use href="#wr" x="240"/></g><g id="n39-5"><use href="#wr" x="292"/></g><g id="n39-6"><use href="#dr" x="344"/></g><g id="n39-7"><use href="#lr" x="396"/></g><g id="n39-8"><use href="#lr" x="448"/></g><g id="n39-9"><use href="#lr" x="500"/></g><g id="n39-10"><use href="#lr" x="552"/></g><g id="n39-11"><use href="#wr" x="604"/></g></g>
<g transform="translate(0,2090)"><g id="n40-1"><use href="#ll" x="84"/></g><g id="n40-2"><use href="#ll" x="136"/></g><g id="n40-3"><use href="#wl" x="188"/></g><g id="n40-4"><use href="#wl" x="240"/></g><g id="n40-5"><use href="#ll" x="292"/></g><g id="n40-6"><use href="#ll" x="344"/></g><g id="n40-7"><use href="#dl" x="396"/></g><g id="n40-8"><use href="#ll" x="448"/></g><g id="n40-9"><use href="#ll" x="500"/></g><g id="n40-10"><use href="#ll" x="552"/></g><g id="n40-11"><use href="#wl" x="604"/></g></g>
<g transform="translate(0,2142)"><g id="n41-1"><use href="#lr" x="84"/></g><g id="n41-2"><use href="#lr" x="136"/></g><g id="n41-3"><use href="#lr" x="188"/></g><g id="n41-4"><use href="#wr" x="240"/></g><g id="n41-5"><use href="#lr" x="292"/></g><g id="n41-6"><use href="#dr" x="344"/></g><g id="n41-7"><use href="#dr" x="396"/></g><g id="n41-8"><use href="#dr" x="448"/></g><g id="n41-9"><use href="#lr" x="500"/></g><g id="n41-10"><use href="#lr" x="552"/></g><g id="n41-11"><use href="#wr" x="604"/></g></g>
<g transform="translate(0,2194)"><g id="n42-1"><use href="#wl" x="84"/></g><g id="n42-2"><use href="#wl" x="136"/></g><g id="n42-3"><use href="#ll" x="188"/></g><g id="n42-4"><use href="#wl" x="240"/></g><g id="n42-5"><use href="#dl" x="292"/></g><g id="n42-6"><use href="#wl" x="344"/></g><g id="n42-7"><use href="#wl" x="396"/></g><g id="n42-8"><use href="#dl" x="448"/></g><g id="n42-9"><use href="#ll" x="500"/></g><g id="n42-10"><use href="#wl" x="552"/></g><g id="n42-11"><use href="#wl" x="604"/></g></g>
<g transform="translate(0,2246)"><g id="n43-1"><use href="#lr" x="84"/></g><g id="n43-2"><use href="#wr" x="136"/></g><g id="n43-3"><use href="#wr" x="188"/></g><g id="n43-4"><use href="#dr" x="240"/></g><g id="n43-5"><use href="#wr" x="292"/></g><g id="n43-6"><use href="#wr" x="344"/></g><g id="n43-7"><use href="#dr" x="396"/></g><g id="n43-8"><use href="#wr" x="448"/></g><g id="n43-9"><use href="#wr" x="500"/></g><g id="n43-10"><use href="#lr" x="552"/></g><g id="n43-11"><use href="#lr" x="604"/></g></g>
<g transform="translate(0,2298)"><g id="n44-1"><use href="#ll" x="84"/></g><g id="n44-2"><use href="#ll" x="136"/></g><g id="n44-3"><use href="#wl" x="188"/></g><g id="n44-4"><use href="#dl" x="240"/></g><g id="n44-5"><use href="#ll" x="292"/></g><g id="n44-6"><use href="#ll" x="344"/></g><g id="n44-7"><use href="#wl" x="396"/></g><g id="n44-8"><use href="#wl" x="448"/></g><g id="n44-9"><use href="#wl" x="500"/></g><g id="n44-10"><use href="#ll" x="552"/></g><g id="n44-11"><use href="#ll" x="604"/></g></g>
<g transform="translate(0,2350)"><g id="n45-1"><use href="#wr" x="84"/></g><g id="n45-2"><use href="#lr" x="136"/></g><g id="n45-3"><use href="#wr" x="188"/></g><g id="n45-4"><use href="#dr" x="240"/></g><g id="n45-5"><use href="#lr" x="292"/></g><g id="n45-6"><use href="#lr" x="344"/></g><g id="n45-7"><use href="#lr" x="396"/></g><g id="n45-8"><use href="#wr" x="448"/></g><g id="n45-9"><use href="#wr" x="500"/></g><g id="n45-10"><use href="#lr" x="552"/></g><g id="n45-11"><use href="#wr" x="604"/></g></g>
<g transform="translate(0,2402)"><g id="n46-1"><use href="#wl" x="84"/></g><g id="n46-2"><use href="#wl" x="136"/></g><g id="n46-3"><use href="#wl" x="188"/></g><g id="n46-4"><use href="#ll" x="240"/></g><g id="n46-5"><use href="#ll" x="292"/></g><g id="n46-6"><use href="#ll" x="344"/></g><g id="n46-7"><use href="#ll" x="396"/></g><g id="n46-8"><use href="#wl" x="448"/></g><g id="n46-9"><use href="#wl" x="500"/></g><g id="n46-10"><use href="#wl" x="552"/></g><g id="n46-11"><use href="#wl" x="604"/></g></g>
<g transform="translate(0,2454)"><g id="n47-1"><use href="#lr" x="84"/></g><g id="n47-2"><use href="#lr" x="136"/></g><g id="n47-3"><use href="#lr" x="188"/></g><g id="n47-4"><use href="#wr" x="240"/></g><g id="n47-5"><use href="#lr" x="292"/></g><g id="n47-6"><use href="#lr" x="344"/></g><g id="n47-7"><use href="#wr" x="396"/></g><g id="n47-8"><use href="#wr" x="448"/></g><g id="n47-9"><use href="#wr" x="500"/></g><g id="n47-10"><use href="#lr" x="552"/></g><g id="n47-11"><use href="#lr" x="604"/></g></g>
<g transform="translate(0,2506)"><g id="n48-1"><use href="#ll" x="84"/></g><g id="n48-2"><use href="#ll" x="136"/></g><g id="n48-3"><use href="#wl" x="188"/></g><g id="n48-4"><use href="#wl" x="240"/></g><g id="n48-5"><use href="#wl" x="292"/></g><g id="n48-6"><use href="#wl" x="344"/></g><g id="n48-7"><use href="#wl" x="396"/></g><g id="n48-8"><use href="#ll" x="448"/></g><g id="n48-9"><use href="#ll" x="500"/></g><g id="n48-10"><use href="#wl" x="552"/></g><g id="n48-11"><use href="#wl" x="604"/></g></g>
<g transform="translate(0,2558)"><g id="n49-1"><use href="#lr" x="84"/></g><g id="n49-2"><use href="#wr" x="136"/></g><g id="n49-3"><use href="#wr" x="188"/></g><g id="n49-4"><use href="#lr" x="240"/></g><g id="n49-5"><use href="#wr" x="292"/></g><g id="n49-6"><use href="#lr" x="344"/></g><g id="n49-7"><use href="#wr" x="396"/></g><g id="n49-8"><use href="#wr" x="448"/></g><g id="n49-9"><use href="#lr" x="500"/></g><g id="n49-10"><use href="#lr" x="552"/></g><g id="n49-11"><use href="#wr" x="604"/></g></g>
<g transform="translate(0,2610)"><g id="n50-1"><use href="#ll" x="84"/></g><g id="n50-2"><use href="#ll" x="136"/></g><g id="n50-3"><use href="#ll" x="188"/></g><g id="n50-4"><use href="#ll" x="240"/></g><g id="n50-5"><use href="#wl" x="292"/></g><g id="n50-6"><use href="#ll" x="344"/></g><g id="n50-7"><use href="#ll" x="396"/></g><g id="n50-8"><use href="#wl" x="448"/></g><g id="n50-9"><use href="#ll" x="500"/></g><g id="n50-10"><use href="#ll" x="552"/></g><g id="n50-11"><use href="#wl" x="604"/></g></g>
<g transform="translate(0,2662)"><g id="n51-1"><use href="#lr" x="84"/></g><g id="n51-2"><use href="#lr" x="136"/></g><g id="n51-3"><use href="#lr" x="188"/></g><g id="n51-4"><use href="#wr" x="240"/></g><g id="n51-5"><use href="#wr" x="292"/></g><g id="n51-6"><use href="#lr" x="344"/></g><g id="n51-7"><use href="#lr" x="396"/></g><g id="n51-8"><use href="#lr" x="448"/></g><g id="n51-9"><use href="#lr" x="500"/></g><g id="n51-10"><use href="#lr" x="552"/></g><g id="n51-11"><use href="#lr" x="604"/></g></g>
<g transform="translate(0,2714)"><g id="n52-1"><use href="#ll" x="84"/></g><g id="n52-2"><use href="#ll" x="136"/></g><g id="n52-3"><use href="#wl" x="188"/></g><g id="n52-4"><use href="#wl" x="240"/></g><g id="n52-5"><use href="#wl" x="292"/></g><g id="n52-6"><use href="#wl" x="344"/></g><g id="n52-7"><use href="#ll" x="396"/></g><g id="n52-8"><use href="#ll" x="448"/></g><g id="n52-9"><use href="#ll" x="500"/></g><g id="n52-10"><use href="#ll" x="552"/></g><g id="n52-11"><use href="#ll" x="604"/></g></g>
<g transform="translate(0,2766)"><g id="n53-1"><use href="#wr" x="84"/></g><g id="n53-2"><use href="#wr" x="136"/></g><g id="n53-3"><use href="#wr" x="188"/></g><g id="n53-4"><use href="#wr" x="240"/></g><g id="n53-5"><use href="#wr" x="292"/></g><g id="n53-6"><use href="#wr" x="344"/></g><g id="n53-7"><use href="#wr" x="396"/></g><g id="n53-8"><use href="#lr" x="448"/></g><g id="n53-9"><use href="#lr" x="500"/></g><g id="n53-10"><use href="#lr" x="552"/></g><g id="n53-11"><use href="#lr" x="604"/></g></g>
<g transform="translate(0,2818)"><g id="n54-1"><use href="#wl" x="84"/></g><g id="n54-2"><use href="#wl" x="136"/></g><g id="n54-3"><use href="#wl" x="188"/></g><g id="n54-4"><use href="#wl" x="240"/></g><g id="n54-5"><use href="#wl" x="292"/></g><g id="n54-6"><use href="#wl" x="344"/></g><g id="n54-7"><use href="#wl" x="396"/></g><g id="n54-8"><use href="#wl" x="448"/></g><g id="n54-9"><use href="#ll" x="500"/></g><g id="n54-10"><use href="#ll" x="552"/></g><g id="n54-11"><use href="#wl" x="604"/></g></g>
<g transform="translate(0,2870)"><g id="n55-1"><use href="#wr" x="84"/></g><g id="n55-2"><use href="#wr" x="136"/></g><g id="n55-3"><use href="#wr" x="188"/></g><g id="n55-4"><use href="#wr" x="240"/></g><g id="n55-5"><use href="#wr" x="292"/></g><g id="n55-6"><use href="#wr" x="344"/></g><g id="n55-7"><use href="#wr" x="396"/></g><g id="n55-8"><use href="#wr" x="448"/></g><g id="n55-9"><use href="#wr" x="500"/></g><g id="n55-10"><use href="#wr" x="552"/></g><g id="n55-11"><use href="#wr" x="604"/></g></g>
<g transform="translate(0,2922)"><g id="n56-1"><use href="#wl" x="84"/></g><g id="n56-2"><use href="#wl" x="136"/></g><g id="n56-3"><use href="#wl" x="188"/></g><g id="n56-4"><use href="#wl" x="240"/></g><g id="n56-5"><use href="#wl" x="292"/></g><g id="n56-6"><use href="#wl" x="344"/></g><g id="n56-7"><use href="#wl" x="396"/></g><g id="n56-8"><use href="#wl" x="448"/></g><g id="n56-9"><use href="#wl" x="500"/></g><g id="n56-10"><use href="#wl" x="552"/></g><g id="n56-11"><use href="#wl" x="604"/></g></g>
<g transform="translate(0,2974)"><g id="n57-1"><use href="#wr" x="84"/></g><g id="n57-2"><use href="#wr" x="136"/></g><g id="n57-3"><use href="#wr" x="188"/></g><g id="n57-4"><use href="#wr" x="240"/></g><g id="n57-5"><use href="#wr" x="292"/></g><g id="n57-6"><use href="#wr" x="344"/></g><g id="n57-7"><use href="#wr" x="396"/></g><g id="n57-8"><use href="#wr" x="448"/></g><g id="n57-9"><use href="#wr" x="500"/></g><g id="n57-10"><use href="#wr" x="552"/></g><g id="n57-11"><use href="#wr" x="604"/></g></g>
<g transform="translate(0,3026)"><g id="n58-1"><use href="#wl" x="84"/></g><g id="n58-2"><use href="#wl" x="136"/></g><g id="n58-3"><use href="#wl" x="188"/></g><g id="n58-4"><use href="#wl" x="240"/></g><g id="n58-5"><use href="#wl" x="292"/></g><g id="n58-6"><use href="#wl" x="344"/></g><g id="n58-7"><use href="#wl" x="396"/></g><g id="n58-8"><use href="#wl" x="448"/></g><g id="n58-9"><use href="#wl" x="500"/></g><g id="n58-10"><use href="#wl" x="552"/></g><g id="n58-11"><use href="#wl" x="604"/></g></g>
<g transform="translate(0,3078)"><g id="n59-1"><use href="#wr" x="84"/></g><g id="n59-2"><use href="#wr" x="136"/></g><g id="n59-3"><use href="#wr" x="188"/></g><g id="n59-4"><use href="#wr" x="240"/></g><g id="n59-5"><use href="#wr" x="292"/></g><g id="n59-6"><use href="#wr" x="344"/></g><g id="n59-7"><use href="#wr" x="396"/></g><g id="n59-8"><use href="#wr" x="448"/></g><g id="n59-9"><use href="#wr" x="500"/></g><g id="n59-10"><use href="#wr" x="552"/></g><g id="n59-11"><use href="#wr" x="604"/></g></g>
<g transform="translate(0,3130)"><g id="n60-1"><use href="#wl" x="84"/></g><g id="n60-2"><use href="#wl" x="136"/></g><g id="n60-3"><use href="#wl" x="188"/></g><g id="n60-4"><use href="#wl" x="240"/></g><g id="n60-5"><use href="#wl" x="292"/></g><g id="n60-6"><use href="#wl" x="344"/></g><g id="n60-7"><use href="#wl" x="396"/></g><g id="n60-8"><use href="#wl" x="448"/></g><g id="n60-9"><use href="#wl" x="500"/></g><g id="n60-10"><use href="#wl" x="552"/></g><g id="n60-11"><use href="#wl" x="604"/></g></g>
<g transform="translate(0,3182)"><g id="n61-1"><use href="#wr" x="84"/></g><g id="n61-2"><use href="#wr" x="136"/></g><g id="n61-3"><use href="#wr" x="188"/></g><g id="n61-4"><use href="#wr" x="240"/></g><g id="n61-5"><use href="#wr" x="292"/></g><g id="n61-6"><use href="#wr" x="344"/></g><g id="n61-7"><use href="#wr" x="396"/></g><g id="n61-8"><use href="#wr" x="448"/></g><g id="n61-9"><use href="#wr" x="500"/></g><g id="n61-10"><use href="#wr" x="552"/></g><g id="n61-11"><use href="#wr" x="604"/></g></g>
</g>
<g id="stub-labels" class="lb">
<text x="32" y="66.5" fill="#000">B</text>
<text x="32" y="170.5" fill="#000">C</text>
<text x="32" y="898.5" fill="#fff">A</text>
<text x="32" y="2822.5" fill="#000">C</text>
<text x="659" y="2354.5" fill="#fff" text-anchor="end">A</text>
<text x="659" y="3186.5" fill="#000" text-anchor="end">B</text>
</g>
<g id="row-numbers-left" class="num" text-anchor="end">
<text x="21" y="66.5">1</text><text x="21" y="118.5">2</text><text x="21" y="170.5">3</text><text x="21" y="222.5">4</text><text x="21" y="274.5">5</text><text x="21" y="326.5">6</text><text x="21" y="378.5">7</text><text x="21" y="430.5">8</text><text x="21" y="482.5">9</text><text x="21" y="534.5">10</text><text x="21" y="586.5">11</text><text x="21" y="638.5">12</text><text x="21" y="690.5">13</text><text x="21" y="742.5">14</text><text x="21" y="794.5">15</text><text x="21" y="846.5">16</text><text x="21" y="898.5">17</text><text x="21" y="950.5">18</text><text x="21" y="1002.5">19</text><text x="21" y="1054.5">20</text><text x="21" y="1106.5">21</text><text x="21" y="1158.5">22</text><text x="21" y="1210.5">23</text><text x="21" y="1262.5">24</text><text x="21" y="1314.5">25</text><text x="21" y="1366.5">26</text><text x="21" y="1418.5">27</text><text x="21" y="1470.5">28</text><text x="21" y="1522.5">29</text><text x="21" y="1574.5">30</text><text x="21" y="1626.5">31</text><text x="21" y="1678.5">32</text><text x="21" y="1730.5">33</text><text x="21" y="1782.5">34</text><text x="21" y="1834.5">35</text><text x="21" y="1886.5">36</text><text x="21" y="1938.5">37</text><text x="21" y="1990.5">38</text><text x="21" y="2042.5">39</text><text x="21" y="2094.5">40</text><text x="21" y="2146.5">41</text><text x="21" y="2198.5">42</text><text x="21" y="2250.5">43</text><text x="21" y="2302.5">44</text><text x="21" y="2354.5">45</text><text x="21" y="2406.5">46</text><text x="21" y="2458.5">47</text><text x="21" y="2510.5">48</text><text x="21" y="2562.5">49</text><text x="21" y="2614.5">50</text><text x="21" y="2666.5">51</text><text x="21" y="2718.5">52</text><text x="21" y="2770.5">53</text><text x="21" y="2822.5">54</text><text x="21" y="2874.5">55</text><text x="21" y="2926.5">56</text><text x="21" y="2978.5">57</text><text x="21" y="3030.5">58</text><text x="21" y="3082.5">59</text><text x="21" y="3134.5">60</text><text x="21" y="3186.5">61</text>
</g>
<g id="row-numbers-right" class="num">
<text x="666" y="66.5">1</text><text x="666" y="118.5">2</text><text x="666" y="170.5">3</text><text x="666" y="222.5">4</text><text x="666" y="274.5">5</text><text x="666" y="326.5">6</text><text x="666" y="378.5">7</text><text x="666" y="430.5">8</text><text x="666" y="482.5">9</text><text x="666" y="534.5">10</text><text x="666" y="586.5">11</text><text x="666" y="638.5">12</text><text x="666" y="690.5">13</text><text x="666" y="742.5">14</text><text x="666" y="794.5">15</text><text x="666" y="846.5">16</text><text x="666" y="898.5">17</text><text x="666" y="950.5">18</text><text x="666" y="1002.5">19</text><text x="666" y="1054.5">20</text><text x="666" y="1106.5">21</text><text x="666" y="1158.5">22</text><text x="666" y="1210.5">23</text><text x="666" y="1262.5">24</text><text x="666" y="1314.5">25</text><text x="666" y="1366.5">26</text><text x="666" y="1418.5">27</text><text x="666" y="1470.5">28</text><text x="666" y="1522.5">29</text><text x="666" y="1574.5">30</text><text x="666" y="1626.5">31</text><text x="666" y="1678.5">32</text><text x="666" y="1730.5">33</text><text x="666" y="1782.5">34</text><text x="666" y="1834.5">35</text><text x="666" y="1886.5">36</text><text x="666" y="1938.5">37</text><text x="666" y="1990.5">38</text><text x="666" y="2042.5">39</text><text x="666" y="2094.5">40</text><text x="666" y="2146.5">41</text><text x="666" y="2198.5">42</text><text x="666" y="2250.5">43</text><text x="666" y="2302.5">44</text><text x="666" y="2354.5">45</text><text x="666" y="2406.5">46</text><text x="666" y="2458.5">47</text><text x="666" y="2510.5">48</text><text x="666" y="2562.5">49</text><text x="666" y="2614.5">50</text><text x="666" y="2666.5">51</text><text x="666" y="2718.5">52</text><text x="666" y="2770.5">53</text><text x="666" y="2822.5">54</text><text x="666" y="2874.5">55</text><text x="666" y="2926.5">56</text><text x="666" y="2978.5">57</text><text x="666" y="3030.5">58</text><text x="666" y="3082.5">59</text><text x="666" y="3134.5">60</text><text x="666" y="3186.5">61</text>
</g>
<text id="watermark" x="344" y="1652" text-anchor="middle" font-family="Liberation Sans, Arial, sans-serif" font-weight="bold" font-size="14" fill="#444" stroke="#fff" stroke-width="2" paint-order="stroke">BRACELETBOOK.COM</text>
</svg>
